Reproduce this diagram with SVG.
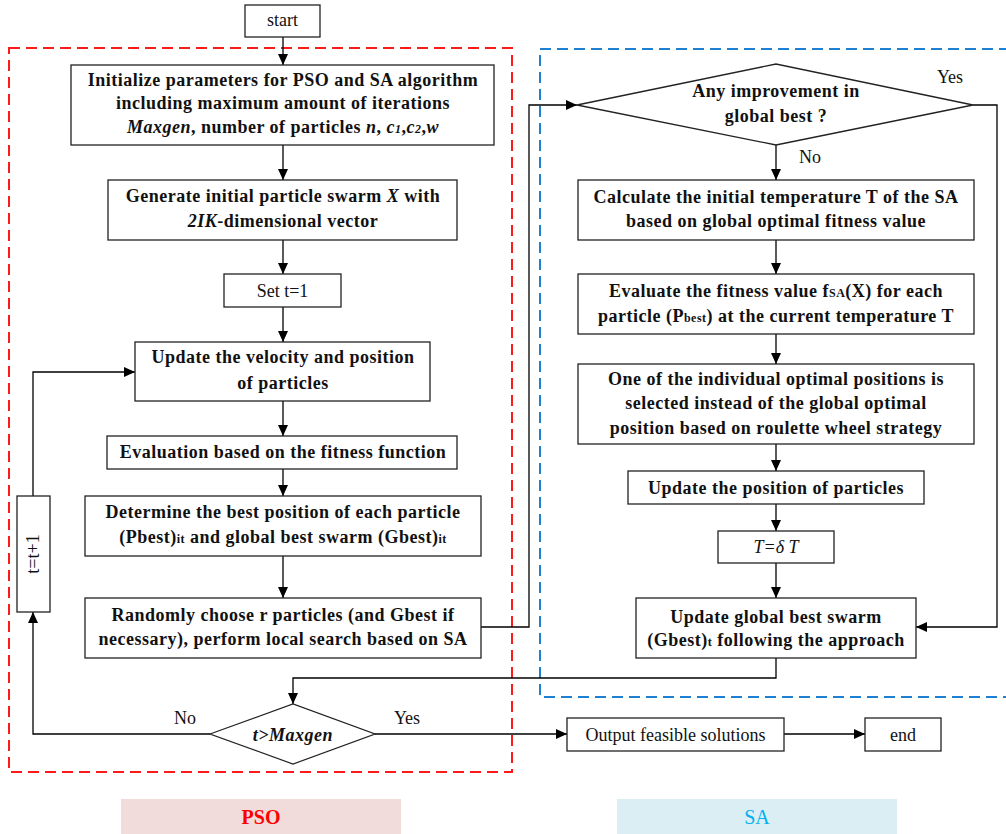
<svg xmlns="http://www.w3.org/2000/svg" width="1006" height="834" viewBox="0 0 1006 834">
<defs>
<marker id="ah" markerUnits="userSpaceOnUse" markerWidth="12" markerHeight="10" refX="11" refY="5" orient="auto">
<path d="M0,0 L11,5 L0,10 z" fill="#000"/>
</marker>
<style>
.box{fill:#fff;stroke:#222;stroke-width:1.3}
.b{font-family:"Liberation Serif","Times New Roman",serif;font-size:18px;font-weight:bold;letter-spacing:0.5px;text-anchor:middle;fill:#111}
.r{font-family:"Liberation Serif","Times New Roman",serif;font-size:18px;text-anchor:middle;fill:#111}
.sub{font-size:12px}
.ln{fill:none;stroke:#000;stroke-width:1.3}
.arr{fill:none;stroke:#000;stroke-width:1.3;marker-end:url(#ah)}
</style>
</defs>
<rect width="1006" height="834" fill="#fff"/>

<g id="regions">
<rect x="9" y="48" width="503" height="724" fill="none" stroke="#ff1a1a" stroke-width="2" stroke-dasharray="11,6"/>
<path d="M1010,49 H540 V697 H1010" fill="none" stroke="#1f7fd0" stroke-width="2" stroke-dasharray="11,6"/>
</g>

<g id="connectors">
<line class="arr" x1="283" y1="37" x2="283" y2="65"/>
<line class="arr" x1="283" y1="145" x2="283" y2="180"/>
<line class="arr" x1="283" y1="240" x2="283" y2="274"/>
<line class="arr" x1="283" y1="307" x2="283" y2="342"/>
<line class="arr" x1="283" y1="401" x2="283" y2="436"/>
<line class="arr" x1="283" y1="469" x2="283" y2="496"/>
<line class="arr" x1="283" y1="556" x2="283" y2="598"/>
<polyline class="arr" points="33,496 33,372 135,372"/>
<polyline class="arr" points="210,734 33,734 33,612"/>
<polyline class="arr" points="481,627 529,627 529,105 577,105"/>
<polyline class="arr" points="973,105 997,105 997,627 916,627"/>
<line class="arr" x1="776" y1="145" x2="776" y2="180"/>
<line class="arr" x1="776" y1="240" x2="776" y2="274"/>
<line class="arr" x1="776" y1="334" x2="776" y2="364"/>
<line class="arr" x1="776" y1="444" x2="776" y2="471"/>
<line class="arr" x1="776" y1="504" x2="776" y2="531"/>
<line class="arr" x1="776" y1="563" x2="776" y2="598"/>
<polyline class="arr" points="776,658 776,678 293,678 293,704"/>
<line class="arr" x1="375" y1="734" x2="567" y2="734"/>
<line class="arr" x1="784" y1="734" x2="865" y2="734"/>
<text class="r" x="185" y="724">No</text>
<text class="r" x="407" y="724">Yes</text>
<text class="r" x="810" y="163">No</text>
<text class="r" x="950" y="83">Yes</text>
</g>

<g id="start">
<rect class="box" x="245" y="5" width="75" height="32"/>
<text class="r" x="282.5" y="26">start</text>
</g>

<g id="init">
<rect class="box" x="71" y="65" width="423" height="80"/>
<text class="b" x="283" y="86">Initialize parameters for PSO and SA algorithm</text>
<text class="b" x="283" y="109">including maximum amount of iterations</text>
<text class="b" x="283" y="133"><tspan font-style="italic">Maxgen</tspan>, number of particles <tspan font-style="italic">n</tspan>, <tspan font-style="italic">c</tspan><tspan class="sub" font-style="italic">1</tspan>,<tspan font-style="italic">c</tspan><tspan class="sub" font-style="italic">2</tspan>,<tspan font-style="italic">w</tspan></text>
</g>

<g id="generate">
<rect class="box" x="108" y="180" width="349" height="60"/>
<text class="b" x="283" y="202">Generate  initial particle swarm <tspan font-style="italic">X</tspan> with</text>
<text class="b" x="283" y="227"><tspan font-style="italic">2IK</tspan>-dimensional vector</text>
</g>

<g id="set-t">
<rect class="box" x="224" y="274" width="117" height="33"/>
<text class="r" x="282.5" y="297">Set t=1</text>
</g>

<g id="update-velocity">
<rect class="box" x="135" y="342" width="295" height="59"/>
<text class="b" x="283" y="363">Update the velocity and position</text>
<text class="b" x="283" y="389">of particles</text>
</g>

<g id="evaluation">
<rect class="box" x="107" y="436" width="350" height="33"/>
<text class="b" x="283" y="458">Evaluation based on the fitness function</text>
</g>

<g id="determine">
<rect class="box" x="85" y="496" width="396" height="60"/>
<text class="b" x="283" y="518">Determine the best position of each particle</text>
<text class="b" x="283" y="543">(Pbest)<tspan class="sub">it</tspan> and global best swarm (Gbest)<tspan class="sub">it</tspan></text>
</g>

<g id="randomly">
<rect class="box" x="85" y="598" width="396" height="60"/>
<text class="b" x="283" y="621">Randomly choose r particles (and Gbest if</text>
<text class="b" x="283" y="645">necessary), perform local search based on SA</text>
</g>

<g id="t-increment">
<rect class="box" x="17" y="496" width="33" height="116"/>
<text class="r" transform="translate(39,554) rotate(-90)" x="0" y="0">t=t+1</text>
</g>

<g id="maxgen">
<polygon class="box" points="210,734 293,704 375,734 293,764"/>
<text class="b" x="293" y="741" font-style="italic" letter-spacing="0">t&gt;Maxgen</text>
</g>

<g id="output">
<rect class="box" x="567" y="718" width="217" height="33"/>
<text class="r" x="675.5" y="741">Output feasible solutions</text>
</g>

<g id="end">
<rect class="box" x="865" y="718" width="76" height="33"/>
<text class="r" x="903" y="741">end</text>
</g>

<g id="improvement">
<polygon class="box" points="577,105 776,64 973,105 776,145"/>
<text class="b" x="776" y="97">Any improvement in</text>
<text class="b" x="776" y="122">global best ?</text>
</g>

<g id="calc-temp">
<rect class="box" x="578" y="180" width="396" height="60"/>
<text class="b" x="776" y="203">Calculate the initial temperature T of the SA</text>
<text class="b" x="776" y="227">based on global optimal fitness value</text>
</g>

<g id="evaluate-sa">
<rect class="box" x="578" y="274" width="396" height="60"/>
<text class="b" x="776" y="297">Evaluate the fitness value f<tspan class="sub">SA</tspan>(X) for each</text>
<text class="b" x="776" y="322">particle (P<tspan class="sub">best</tspan>) at the current temperature T</text>
</g>

<g id="roulette">
<rect class="box" x="578" y="364" width="396" height="80"/>
<text class="b" x="776" y="385">One of the individual optimal positions is</text>
<text class="b" x="776" y="409">selected instead of the global optimal</text>
<text class="b" x="776" y="434">position based on roulette wheel  strategy</text>
</g>

<g id="update-position">
<rect class="box" x="628" y="471" width="296" height="33"/>
<text class="b" x="776" y="494">Update the  position of  particles</text>
</g>

<g id="cooling">
<rect class="box" x="718" y="531" width="116" height="32"/>
<text class="r" x="776" y="553" font-style="italic">T=δ T</text>
</g>

<g id="update-global">
<rect class="box" x="636" y="598" width="280" height="60"/>
<text class="b" x="776" y="623">Update global best swarm</text>
<text class="b" x="776" y="646">(Gbest)<tspan class="sub">t</tspan> following the approach</text>
</g>

<g id="legend-pso">
<rect x="121" y="799" width="280" height="35" fill="#f2dcdb"/>
<text x="261" y="824" font-family="Liberation Serif, serif" font-size="20" font-weight="bold" fill="#ff0000" text-anchor="middle">PSO</text>
</g>
<g id="legend-sa">
<rect x="617" y="799" width="280" height="35" fill="#daeef3"/>
<text x="757" y="824" font-family="Liberation Serif, serif" font-size="20" fill="#00b0f0" text-anchor="middle">SA</text>
</g>
</svg>
